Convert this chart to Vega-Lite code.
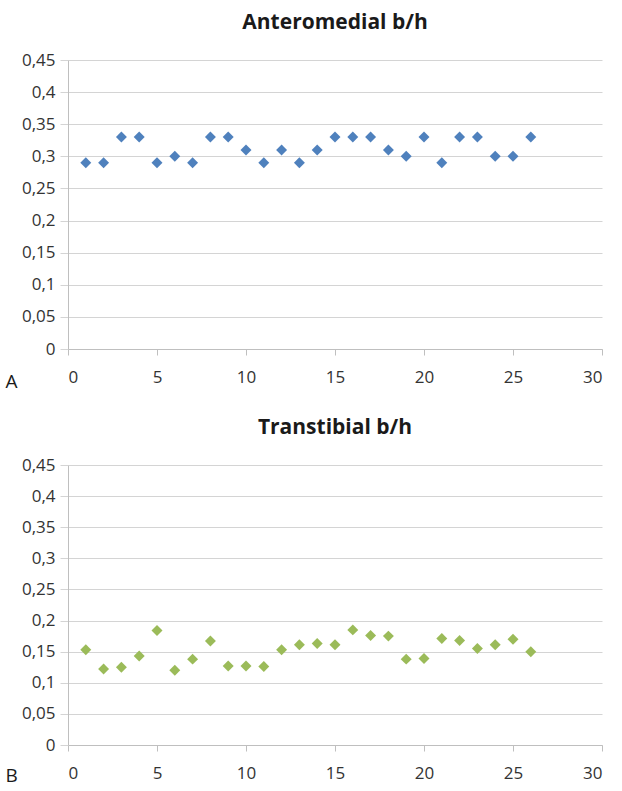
{
  "$schema": "https://vega.github.io/schema/vega-lite/v6.json",
  "background": "white",
  "padding": {"left": 5, "top": 12, "right": 6, "bottom": 8},
  "spacing": 26,
  "config": {
    "font": "Open Sans",
    "view": {"stroke": null},
    "title": {"fontSize": 21, "fontWeight": "bold", "color": "#1a1a1a", "font": "Open Sans", "offset": 18},
    "axis": {
      "labelFont": "Open Sans", "labelColor": "#333333",
      "domainColor": "#bfbfbf", "tickColor": "#bfbfbf", "gridColor": "#d4d4d4",
      "domainWidth": 1, "tickWidth": 1, "gridWidth": 1
    }
  },
  "datasets": {
    "antero": [
      {"n": 1, "v": 0.29}, {"n": 2, "v": 0.29}, {"n": 3, "v": 0.33}, {"n": 4, "v": 0.33},
      {"n": 5, "v": 0.29}, {"n": 6, "v": 0.30}, {"n": 7, "v": 0.29}, {"n": 8, "v": 0.33},
      {"n": 9, "v": 0.33}, {"n": 10, "v": 0.31}, {"n": 11, "v": 0.29}, {"n": 12, "v": 0.31},
      {"n": 13, "v": 0.29}, {"n": 14, "v": 0.31}, {"n": 15, "v": 0.33}, {"n": 16, "v": 0.33},
      {"n": 17, "v": 0.33}, {"n": 18, "v": 0.31}, {"n": 19, "v": 0.30}, {"n": 20, "v": 0.33},
      {"n": 21, "v": 0.29}, {"n": 22, "v": 0.33}, {"n": 23, "v": 0.33}, {"n": 24, "v": 0.30},
      {"n": 25, "v": 0.30}, {"n": 26, "v": 0.33}
    ],
    "trans": [
      {"n": 1, "v": 0.153}, {"n": 2, "v": 0.122}, {"n": 3, "v": 0.125}, {"n": 4, "v": 0.143},
      {"n": 5, "v": 0.184}, {"n": 6, "v": 0.120}, {"n": 7, "v": 0.138}, {"n": 8, "v": 0.167},
      {"n": 9, "v": 0.127}, {"n": 10, "v": 0.127}, {"n": 11, "v": 0.126}, {"n": 12, "v": 0.153},
      {"n": 13, "v": 0.161}, {"n": 14, "v": 0.163}, {"n": 15, "v": 0.161}, {"n": 16, "v": 0.185},
      {"n": 17, "v": 0.176}, {"n": 18, "v": 0.175}, {"n": 19, "v": 0.138}, {"n": 20, "v": 0.139},
      {"n": 21, "v": 0.171}, {"n": 22, "v": 0.168}, {"n": 23, "v": 0.155}, {"n": 24, "v": 0.161},
      {"n": 25, "v": 0.170}, {"n": 26, "v": 0.150}
    ]
  },
  "vconcat": [
    {
      "title": "Anteromedial b/h",
      "width": 534, "height": 289,
      "data": {"name": "antero"},
      "mark": {"type": "point", "shape": "diamond", "filled": true, "size": 120, "color": "#4F81BD", "opacity": 1},
      "encoding": {
        "x": {"field": "n", "type": "quantitative", "scale": {"domain": [0, 30], "nice": false},
          "axis": {"values": [0, 5, 10, 15, 20, 25, 30], "grid": false, "tickSize": 6, "labelPadding": 14, "labelFontSize": 17,
            "title": "A", "titleFontSize": 19, "titleFontWeight": "normal", "titleFont": "Open Sans", "titleColor": "#1a1a1a", "titleAnchor": "start", "titleAlign": "left", "titleX": -63, "titleY": 38, "titleBaseline": "alphabetic"}},
        "y": {"field": "v", "type": "quantitative", "scale": {"domain": [0, 0.45], "nice": false},
          "axis": {"values": [0, 0.05, 0.1, 0.15, 0.2, 0.25, 0.3, 0.35, 0.4, 0.45], "format": ".2~f", "labelFontSize": 17,
            "labelExpr": "replace(datum.label, '.', ',')", "tickSize": 8, "tickColor": "#d4d4d4", "labelPadding": 5, "title": null}}
      }
    },
    {
      "title": "Transtibial b/h",
      "width": 534, "height": 280,
      "data": {"name": "trans"},
      "mark": {"type": "point", "shape": "diamond", "filled": true, "size": 120, "color": "#9BBB59", "opacity": 1},
      "encoding": {
        "x": {"field": "n", "type": "quantitative", "scale": {"domain": [0, 30], "nice": false},
          "axis": {"values": [0, 5, 10, 15, 20, 25, 30], "grid": false, "tickSize": 6, "labelPadding": 14, "labelFontSize": 17,
            "title": "B", "titleFontSize": 19, "titleFontWeight": "normal", "titleFont": "Open Sans", "titleColor": "#1a1a1a", "titleAnchor": "start", "titleAlign": "left", "titleX": -63, "titleY": 36, "titleBaseline": "alphabetic"}},
        "y": {"field": "v", "type": "quantitative", "scale": {"domain": [0, 0.45], "nice": false},
          "axis": {"values": [0, 0.05, 0.1, 0.15, 0.2, 0.25, 0.3, 0.35, 0.4, 0.45], "format": ".2~f", "labelFontSize": 17,
            "labelExpr": "replace(datum.label, '.', ',')", "tickSize": 8, "tickColor": "#d4d4d4", "labelPadding": 5, "title": null}}
      }
    }
  ]
}
